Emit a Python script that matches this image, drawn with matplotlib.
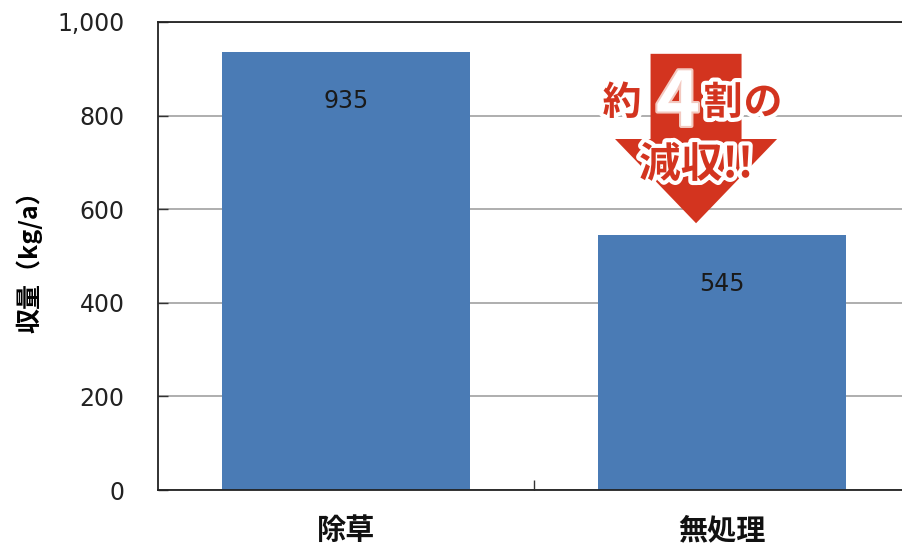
import matplotlib
matplotlib.use("Agg")
import matplotlib.pyplot as plt
import matplotlib.patheffects as pe
from matplotlib.patches import FancyArrow

plt.rcParams['font.family'] = ['Noto Sans CJK JP', 'DejaVu Sans']

categories = ['除草', '無処理']
values = [935, 545]
yticks = [0, 200, 400, 600, 800, 1000]
ytick_labels = ['0', '200', '400', '600', '800', '1,000']
ylabel = '収量（kg/a）'

bar_color = '#4a7bb5'
red = '#d3341f'
num_font = ['DejaVu Sans']

fig = plt.figure(figsize=(9.03, 5.5), dpi=100)
ax = fig.add_axes([158/903, 1-490/550, (910-158)/903, (490-22)/550])

x = list(range(len(categories)))
bars = ax.bar(x, values, width=0.657, color=bar_color, zorder=2)
for xi, v in zip(x, values):
    ax.annotate(str(v), (xi, v), xytext=(0, -35), textcoords='offset points',
                ha='center', va='center', fontsize=17, color='#1a1a1a', family=num_font)

ax.set_xlim(-0.5, 1.5)
ax.set_ylim(0, 1000)
ax.set_yticks(yticks)
ax.set_yticklabels(ytick_labels, family=num_font)
ax.set_xticks(x)
ax.set_xticklabels(categories, fontsize=21, fontweight='bold')
ax.set_xticks([0.5], minor=True)
ax.tick_params(axis='x', which='major', length=0, pad=18)
ax.tick_params(axis='x', which='minor', direction='in', length=7, width=1, color='#333333')
ax.tick_params(axis='y', direction='in', length=7, width=1, color='#333333',
               labelsize=17, pad=24, labelcolor='#222222')
for t in ax.get_xticklabels():
    t.set_color('#111111')
ax.yaxis.grid(True, color='#a8a8a8', linewidth=1.3, zorder=0)
ax.set_axisbelow(True)
for s in ['left', 'bottom', 'top']:
    ax.spines[s].set_color('#222222')
    ax.spines[s].set_linewidth(1.3)
ax.spines['right'].set_visible(False)

ax.set_ylabel(ylabel, fontsize=18, fontweight='bold')
ax.yaxis.set_label_coords(-0.154, 0.5)

# arrow annotation
arr = FancyArrow(0.931, 932, 0, -362, width=0.242, head_width=0.431, head_length=180,
                 length_includes_head=True, color=red, zorder=3, linewidth=0)
ax.add_patch(arr)

stroke_w = [pe.withStroke(linewidth=6, foreground='white')]
ax.text(0.734, 827, '約', fontsize=28, fontweight='bold', color=red,
        ha='center', va='center', zorder=4, path_effects=stroke_w)
ax.text(0.883, 825, '4', fontsize=54, fontweight='bold', color='white',
        ha='center', va='center', zorder=4,
        path_effects=[pe.withStroke(linewidth=3, foreground='#f3c9c0')])
ax.text(1.003, 827, '割', fontsize=28, fontweight='bold', color=red,
        ha='center', va='center', zorder=4, path_effects=stroke_w)
ax.text(1.109, 827, 'の', fontsize=28, fontweight='bold', color=red,
        ha='center', va='center', zorder=4, path_effects=stroke_w)
ax.text(0.931, 694, '減収!!', fontsize=30, fontweight='bold', color=red,
        ha='center', va='center', zorder=4, path_effects=stroke_w)

fig.savefig('out.png', dpi=100)
